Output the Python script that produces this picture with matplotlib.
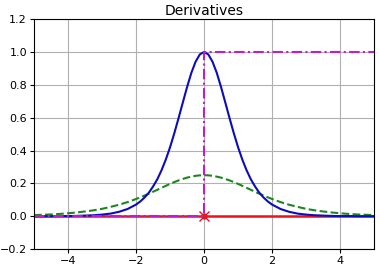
import numpy as np
import matplotlib.pyplot as plt

# values (right half, mirrored for the left half)
z_half = [0.0, 0.125, 0.25, 0.375, 0.5, 0.625, 0.75, 0.875, 1.0, 1.125, 1.25,
          1.375, 1.5, 1.625, 1.75, 1.875, 2.0, 2.25, 2.5, 2.75, 3.0,
          3.25, 3.5, 3.75, 4.0, 4.25, 4.5, 4.75, 5.0]
tanh_half = [1.000, 0.985, 0.940, 0.872, 0.786, 0.692, 0.597, 0.505, 0.420, 0.345, 0.280,
             0.225, 0.181, 0.143, 0.114, 0.090, 0.071, 0.044, 0.027, 0.016, 0.010,
             0.006, 0.004, 0.002, 0.001, 0.001, 0.000, 0.000, 0.000]
sigm_half = [0.250, 0.249, 0.246, 0.241, 0.235, 0.227, 0.218, 0.208, 0.197, 0.185, 0.173,
             0.161, 0.149, 0.137, 0.126, 0.115, 0.105, 0.086, 0.070, 0.057, 0.045,
             0.036, 0.029, 0.023, 0.018, 0.014, 0.011, 0.009, 0.007]

z = [-v for v in z_half[:0:-1]] + z_half
tanh_d = tanh_half[:0:-1] + tanh_half
sigm_d = sigm_half[:0:-1] + sigm_half

step_x = [-5, 5]
step_d = [0, 0]
relu_x = [-5, 0, 0, 5]
relu_d = [0, 0, 1, 1]

fig = plt.figure(figsize=(3.8, 2.69), dpi=100)
ax = fig.add_axes([0.0895, 0.074, 0.895, 0.855])

ax.plot(step_x, step_d, "-", color="#e8141e", linewidth=1.8, label="Step")
ax.plot(0, 0, "o", color="#e8141e", markersize=3.5)
ax.plot(0, 0, "x", color="#e8141e", markersize=7)
ax.plot(z, sigm_d, "--", color="#1f861f", linewidth=1.5, label="Sigmoid")
ax.plot(z, tanh_d, "-", color="#0c0cbc", linewidth=1.5, label="Tanh")
ax.plot(relu_x, relu_d, "-.", color="#c01cc8", linewidth=1.5,
        dashes=(5, 1.6, 1, 1.6), label="ReLU")
ax.grid(True)
ax.set_title("Derivatives", fontsize=10, pad=3)
ax.axis([-5, 5, -0.2, 1.2])
ax.tick_params(labelsize=8, length=3, pad=2)

fig.savefig("out.png", dpi=100)
